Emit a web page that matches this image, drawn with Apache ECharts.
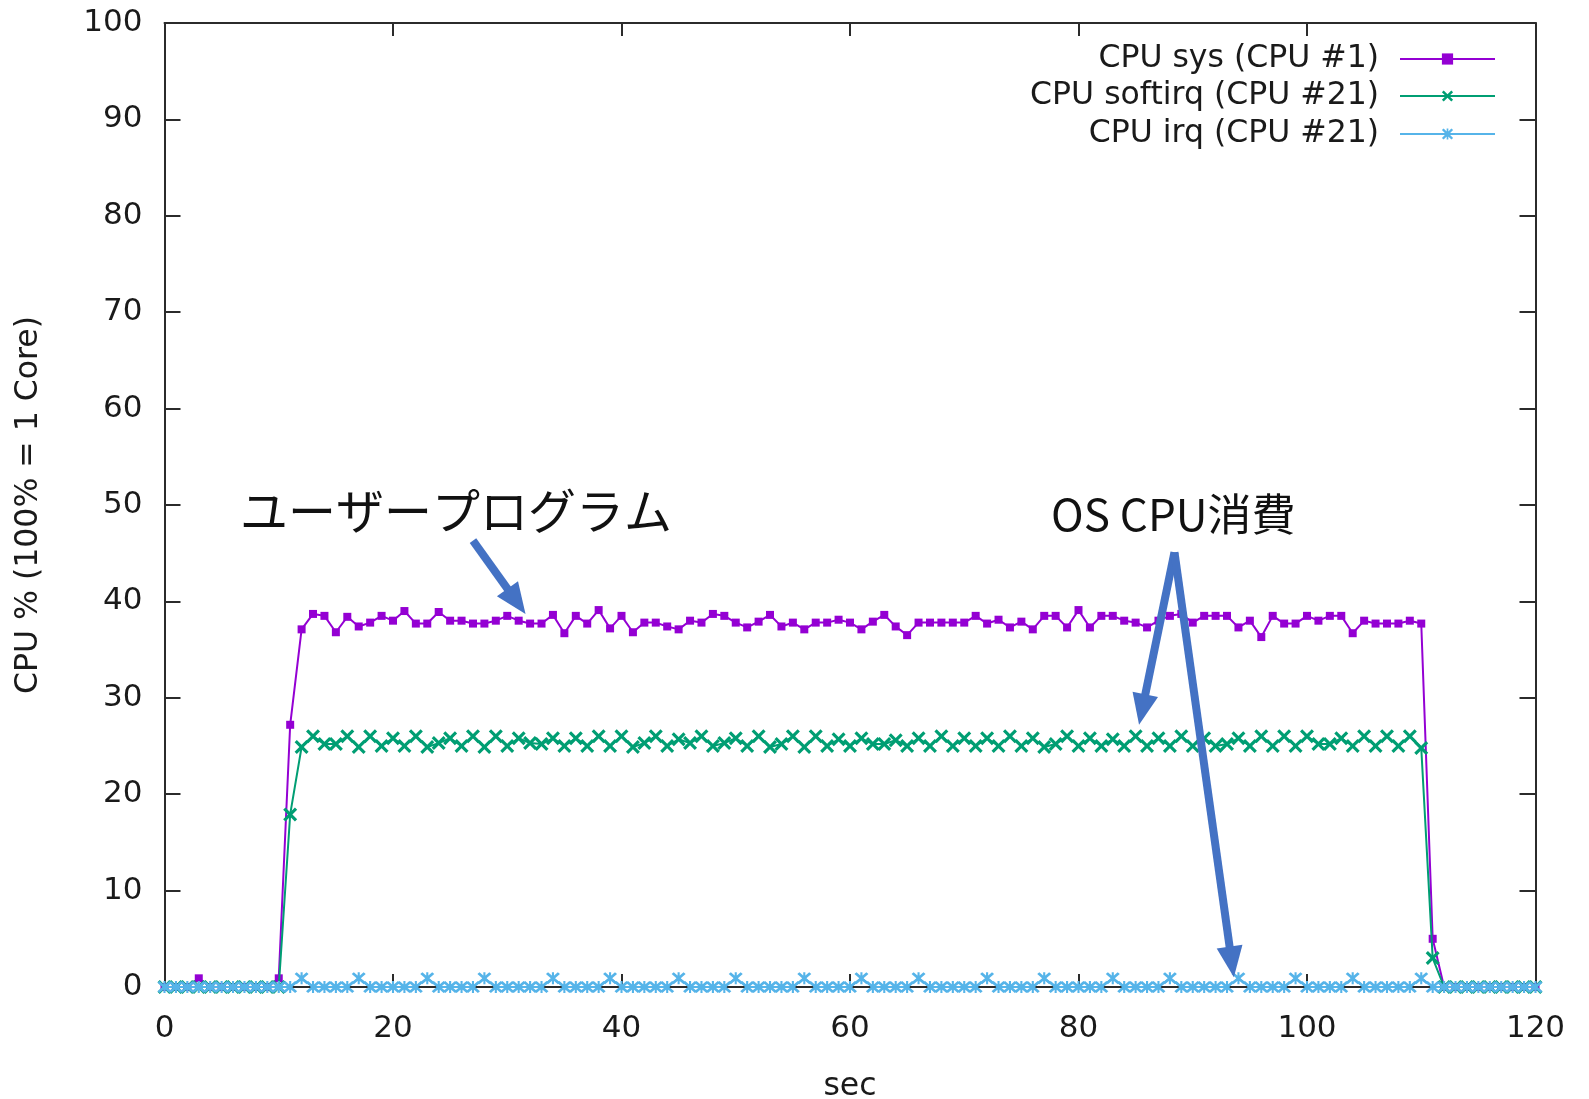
<!DOCTYPE html>
<html>
<head>
<meta charset="utf-8">
<script src="https://cdn.jsdelivr.net/npm/echarts@6/dist/echarts.min.js"></script>
<style>html,body{margin:0;padding:0;background:#fff;}#c{width:1589px;height:1099px;}</style>
</head>
<body>
<div id="c"></div>
<script>
// ---- data ----
var seriesNames = ['CPU sys (CPU #1)', 'CPU softirq (CPU #21)', 'CPU irq (CPU #21)'];
var xTicks = [0, 20, 40, 60, 80, 100, 120];
var yTicks = [0, 10, 20, 30, 40, 50, 60, 70, 80, 90, 100];
var cpuSys = [
  0, 0, 0, 0.9, 0, 0, 0, 0, 0, 0, 0.9,
  27.2, 37.1, 38.7, 38.5, 36.8, 38.4, 37.4, 37.8, 38.5, 38.0,
  39.0, 37.7, 37.7, 38.9, 38.0, 38.0, 37.7, 37.7, 38.0, 38.5,
  38.0, 37.7, 37.7, 38.6, 36.7, 38.5, 37.7, 39.1, 37.2, 38.5,
  36.8, 37.8, 37.8, 37.4, 37.1, 38.0, 37.8, 38.7, 38.5, 37.8,
  37.3, 37.9, 38.6, 37.4, 37.8, 37.1, 37.8, 37.8, 38.1, 37.8,
  37.1, 37.9, 38.6, 37.4, 36.5, 37.8, 37.8, 37.8, 37.8, 37.8,
  38.5, 37.7, 38.1, 37.3, 37.9, 37.1, 38.5, 38.5, 37.3, 39.1,
  37.3, 38.5, 38.5, 38.0, 37.8, 37.3, 38.0, 38.5, 38.7, 37.8,
  38.5, 38.5, 38.5, 37.3, 38.0, 36.3, 38.5, 37.7, 37.7, 38.5,
  38.0, 38.5, 38.5, 36.7, 38.0, 37.7, 37.7, 37.7, 38.0, 37.7,
  5.0, 0, 0, 0, 0, 0, 0, 0, 0, 0
];
var cpuSoftirq = [
  0, 0, 0, 0, 0, 0, 0, 0, 0, 0, 0,
  17.9, 24.9, 26.0, 25.2, 25.2, 26.0, 24.9, 26.0, 25.0, 25.8,
  25.0, 26.0, 24.9, 25.3, 25.8, 25.0, 26.0, 24.9, 26.0, 25.0,
  25.8, 25.3, 25.2, 25.8, 25.0, 25.8, 25.0, 26.0, 25.0, 26.0,
  24.9, 25.3, 26.0, 25.0, 25.7, 25.3, 26.0, 25.0, 25.3, 25.8,
  25.0, 26.0, 24.9, 25.2, 26.0, 24.9, 26.0, 25.0, 25.7, 25.0,
  25.8, 25.2, 25.2, 25.6, 25.0, 25.8, 25.0, 26.0, 25.0, 25.8,
  25.0, 25.8, 25.0, 26.0, 25.0, 25.8, 24.9, 25.2, 26.0, 25.0,
  25.8, 25.0, 25.7, 25.0, 26.0, 25.0, 25.8, 25.0, 26.0, 25.0,
  25.8, 25.0, 25.2, 25.8, 25.0, 26.0, 25.0, 26.0, 25.0, 26.0,
  25.2, 25.2, 25.8, 25.0, 26.0, 25.0, 26.0, 25.0, 26.0, 24.8,
  3.0, 0, 0, 0, 0, 0, 0, 0, 0, 0
];
var cpuIrq = [
  0, 0, 0, 0, 0, 0, 0, 0, 0, 0, 0,
  0, 0.9, 0, 0, 0, 0, 0.9, 0, 0, 0,
  0, 0, 0.9, 0, 0, 0, 0, 0.9, 0, 0,
  0, 0, 0, 0.9, 0, 0, 0, 0, 0.9, 0,
  0, 0, 0, 0, 0.9, 0, 0, 0, 0, 0.9,
  0, 0, 0, 0, 0, 0.9, 0, 0, 0, 0,
  0.9, 0, 0, 0, 0, 0.9, 0, 0, 0, 0,
  0, 0.9, 0, 0, 0, 0, 0.9, 0, 0, 0,
  0, 0, 0.9, 0, 0, 0, 0, 0.9, 0, 0,
  0, 0, 0, 0.9, 0, 0, 0, 0, 0.9, 0,
  0, 0, 0, 0.9, 0, 0, 0, 0, 0, 0.9,
  0, 0, 0, 0, 0, 0, 0, 0, 0, 0
];
// annotations (data coordinates)
var noteUserText = 'ユーザープログラム';
var noteUserPos = [6.6, 49.4];
var noteOsText = 'OS CPU消費';
var noteOsPos = [77.6, 49.0];
var arrows = [
  [[27.0, 46.3], [31.6, 38.7]],
  [[88.4, 45.1], [85.3, 27.2]],
  [[88.4, 45.1], [93.6, 1.0]]
];

// ---- build ----
var secs = cpuSys.map(function (v, i) { return i; });
function pairs(arr) { return arr.map(function (v, i) { return [secs[i], v]; }); }

var FONT = 'DejaVu Sans';
var FS = 31.5;
var TXT = '#1a1a1a';
var AX = '#2b2b2b';
var colors = ['#9400D3', '#009E73', '#56B4E9'];
var symX = 'path://M0,1.6L1.6,0L5,3.4L8.4,0L10,1.6L6.6,5L10,8.4L8.4,10L5,6.6L1.6,10L0,8.4L3.4,5Z';
var symStar = 'path://M0,1.5L1.5,0L5,3.5L8.5,0L10,1.5L6.5,5L10,8.5L8.5,10L5,6.5L1.5,10L0,8.5L3.5,5Z' +
  'M4.25,0L5.75,0L5.75,10L4.25,10Z';

function legendFor(name, top) {
  return {
    data: [name], orient: 'vertical', align: 'right', right: 93, top: top, padding: 0,
    itemWidth: 95, itemHeight: 14, selectedMode: false,
    textStyle: { fontFamily: FONT, fontSize: FS, color: TXT, lineHeight: 32, padding: [0, 16, 0, 0] }
  };
}

var chart = echarts.init(document.getElementById('c'), null, { renderer: 'canvas' });
function axisLine() { return { show: true, onZero: false, lineStyle: { color: AX, width: 2 } }; }
function tick(len) { return { show: true, inside: true, length: len, lineStyle: { color: AX, width: 2 } }; }
var option = {
  animation: false,
  backgroundColor: '#fff',
  grid: { left: 164.5, right: 53.5, top: 23, bottom: 112, containLabel: false, outerBoundsMode: 'none' },
  xAxis: [
    {
      type: 'value', position: 'bottom', min: xTicks[0], max: xTicks[xTicks.length - 1], interval: 20,
      splitLine: { show: false }, axisLine: axisLine(), axisTick: tick(13),
      axisLabel: { fontFamily: FONT, fontSize: FS - 0.5, color: TXT, margin: 26 },
      name: 'sec', nameLocation: 'middle', nameGap: 84,
      nameTextStyle: { fontFamily: FONT, fontSize: FS, color: TXT }
    },
    {
      type: 'value', position: 'top', min: xTicks[0], max: xTicks[xTicks.length - 1], interval: 20,
      splitLine: { show: false }, axisLine: axisLine(), axisTick: tick(13),
      axisLabel: { show: false }
    }
  ],
  yAxis: [
    {
      type: 'value', position: 'left', min: yTicks[0], max: yTicks[yTicks.length - 1], interval: 10,
      splitLine: { show: false }, axisLine: axisLine(), axisTick: tick(16),
      axisLabel: { fontFamily: FONT, fontSize: FS - 0.5, color: TXT, margin: 22 },
      name: 'CPU % (100% = 1 Core)', nameLocation: 'middle', nameGap: 120,
      nameTextStyle: { fontFamily: FONT, fontSize: FS, color: TXT }
    },
    {
      type: 'value', position: 'right', min: yTicks[0], max: yTicks[yTicks.length - 1], interval: 10,
      splitLine: { show: false }, axisLine: axisLine(), axisTick: tick(16),
      axisLabel: { show: false }
    }
  ],
  legend: [legendFor(seriesNames[0], 43), legendFor(seriesNames[1], 80), legendFor(seriesNames[2], 118)],
  series: [
    {
      name: seriesNames[0], type: 'line', data: pairs(cpuSys), xAxisIndex: 0, yAxisIndex: 0,
      symbol: 'rect', symbolSize: 8, showAllSymbol: true,
      lineStyle: { color: colors[0], width: 2 }, itemStyle: { color: colors[0] },
      emphasis: { disabled: true }, z: 2
    },
    {
      name: seriesNames[1], type: 'line', data: pairs(cpuSoftirq),
      symbol: symX, symbolSize: 14, showAllSymbol: true,
      lineStyle: { color: colors[1], width: 2 }, itemStyle: { color: colors[1] },
      emphasis: { disabled: true }, z: 3
    },
    {
      name: seriesNames[2], type: 'line', data: pairs(cpuIrq),
      symbol: symStar, symbolSize: [14, 12], showAllSymbol: true,
      lineStyle: { color: colors[2], width: 2 }, itemStyle: { color: colors[2] },
      emphasis: { disabled: true }, z: 4
    }
  ]
};
chart.setOption(option);

// annotations via library coordinate conversion
function px(p) { return chart.convertToPixel({ gridIndex: 0 }, p); }
var ARROW = '#4472C4';
var g = [];
function addText(t, pos, size) {
  var p = px(pos);
  g.push({
    type: 'text', x: p[0], y: p[1], z: 50,
    style: { text: t, fontFamily: '"Noto Sans CJK JP"', fontSize: size, fill: '#111',
      textAlign: 'left', textVerticalAlign: 'middle' }
  });
}
addText(noteUserText, noteUserPos, 48);
addText(noteOsText, noteOsPos, 44);
arrows.forEach(function (a) {
  var s = px(a[0]), t = px(a[1]);
  var dx = t[0] - s[0], dy = t[1] - s[1];
  var len = Math.sqrt(dx * dx + dy * dy);
  var ux = dx / len, uy = dy / len, nx = -uy, ny = ux;
  var L = 31, hw = 13;
  var bx = t[0] - ux * L, by = t[1] - uy * L;
  g.push({ type: 'line', z: 50, shape: { x1: s[0], y1: s[1], x2: bx + ux * 2, y2: by + uy * 2 },
    style: { stroke: ARROW, lineWidth: 8 } });
  g.push({ type: 'polygon', z: 50, shape: { points: [[t[0], t[1]], [bx + nx * hw, by + ny * hw], [bx - nx * hw, by - ny * hw]] },
    style: { fill: ARROW } });
});
chart.setOption({ graphic: g });
</script>
</body>
</html>
